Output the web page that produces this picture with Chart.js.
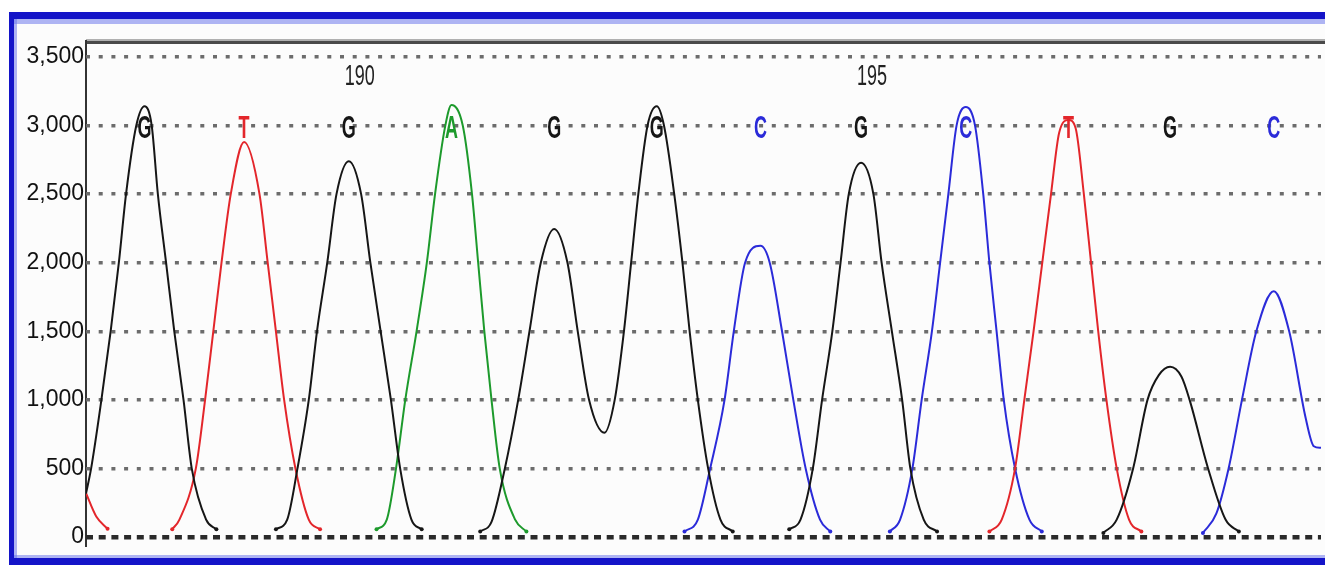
<!DOCTYPE html>
<html>
<head>
<meta charset="utf-8">
<title>Sequence trace 188-199</title>
<script src="https://cdn.jsdelivr.net/npm/chart.js@4.4.1/dist/chart.umd.min.js"></script>
<style>
  html, body { margin: 0; padding: 0; background: #fff; }
  #wrap { width: 1325px; height: 565px; }
</style>
</head>
<body>
<div id="wrap"><canvas id="traceChart" width="1325" height="565"></canvas></div>
<script>
// ---- data ----
// base calls: position of each peak and its letter
const basePositions = [188.00, 188.97, 189.99, 190.99, 191.99, 192.99, 194.00, 194.98, 196.00, 197.00, 197.99, 199.00];
const baseLetters = ['G', 'T', 'G', 'A', 'G', 'G', 'C', 'G', 'C', 'T', 'G', 'C'];
const positionMarks = [190, 195];
const yTicks = [0, 500, 1000, 1500, 2000, 2500, 3000, 3500];
const xRange = [187.43, 199.46];

// signal per channel, as separate peaks: [position, signal]
const traceG = [
    [[187.43, 317], [187.48, 500], [187.58, 1000], [187.67, 1500], [187.75, 2000], [187.82, 2500], [187.92, 3000], [188.00, 3140],
     [188.07, 3000], [188.13, 2500], [188.21, 2000], [188.29, 1500], [188.38, 1000], [188.46, 500], [188.60, 127], [188.70, 56]],
    [[189.28, 56], [189.39, 127], [189.49, 500], [189.60, 1000], [189.68, 1500], [189.78, 2000], [189.87, 2500], [189.99, 2740],
     [190.11, 2500], [190.20, 2000], [190.30, 1500], [190.40, 1000], [190.49, 500], [190.60, 127], [190.70, 56]],
    [[191.27, 40], [191.38, 110], [191.51, 500], [191.64, 1000], [191.75, 1500], [191.86, 2000], [191.99, 2246],
     [192.12, 2000], [192.22, 1500], [192.33, 1000], [192.48, 760], [192.58, 1000], [192.67, 1500], [192.74, 2000],
     [192.81, 2500], [192.90, 3000], [192.99, 3140], [193.06, 3000], [193.16, 2500], [193.24, 2000], [193.31, 1500],
     [193.39, 1000], [193.49, 500], [193.61, 127], [193.73, 40]],
    [[194.28, 56], [194.39, 127], [194.51, 500], [194.60, 1000], [194.70, 1500], [194.78, 2000], [194.86, 2500], [194.98, 2728],
     [195.10, 2500], [195.18, 2000], [195.28, 1500], [195.38, 1000], [195.46, 500], [195.59, 127], [195.72, 40]],
    [[197.34, 30], [197.47, 127], [197.63, 500], [197.77, 1000], [197.88, 1180], [197.99, 1241], [198.10, 1170],
     [198.18, 1000], [198.36, 500], [198.53, 127], [198.66, 40]]
];
const traceT = [
    [[187.43, 320], [187.53, 150], [187.64, 60]],
    [[188.27, 56], [188.34, 127], [188.50, 500], [188.59, 1000], [188.67, 1500], [188.75, 2000], [188.84, 2500], [188.97, 2880],
     [189.12, 2500], [189.20, 2000], [189.28, 1500], [189.36, 1000], [189.47, 500], [189.60, 127], [189.71, 56]],
    [[196.23, 40], [196.35, 127], [196.48, 500], [196.57, 1000], [196.66, 1500], [196.745, 2000], [196.83, 2500], [196.91, 2950],
     [197.00, 3040], [197.07, 2980], [197.15, 2500], [197.22, 2000], [197.29, 1500], [197.37, 1000], [197.47, 500],
     [197.59, 127], [197.71, 40]]
];
const traceA = [
    [[190.26, 56], [190.36, 127], [190.45, 500], [190.54, 1000], [190.65, 1500], [190.75, 2000], [190.83, 2500], [190.93, 3000],
     [190.99, 3150], [191.10, 3000], [191.19, 2500], [191.25, 2000], [191.31, 1500], [191.38, 1000], [191.46, 500],
     [191.61, 127], [191.72, 40]]
];
const traceC = [
    [[193.26, 40], [193.39, 127], [193.51, 500], [193.65, 1000], [193.74, 1500], [193.85, 2000], [194.00, 2123],
     [194.09, 2000], [194.21, 1500], [194.32, 1000], [194.44, 500], [194.58, 127], [194.68, 40]],
    [[195.26, 40], [195.36, 127], [195.48, 500], [195.57, 1000], [195.67, 1500], [195.75, 2000], [195.83, 2500], [195.91, 3000],
     [196.00, 3135], [196.09, 3000], [196.17, 2500], [196.23, 2000], [196.30, 1500], [196.37, 1000], [196.48, 500],
     [196.62, 127], [196.74, 40]],
    [[198.31, 30], [198.44, 170], [198.56, 500], [198.69, 1000], [198.83, 1500], [199.00, 1792], [199.15, 1500],
     [199.31, 870], [199.39, 662], [199.46, 650]]
];

const baseColors = { G: '#161616', T: '#e3262b', A: '#1d9a2c', C: '#2b2bd9' };

// turn peak lists into one dataset per channel, with gaps between peaks
function buildChannel(segments, color) {
    const data = [];
    const radius = [];
    segments.forEach((seg, i) => {
        if (i > 0) {
            const prev = segments[i - 1];
            data.push({ x: (prev[prev.length - 1][0] + seg[0][0]) / 2, y: null });
            radius.push(0);
        }
        seg.forEach((p, j) => {
            data.push({ x: p[0], y: p[1] });
            const isEnd = (j === 0 || j === seg.length - 1);
            const atEdge = p[0] <= xRange[0] || p[0] >= xRange[1];
            radius.push(isEnd && !atEdge ? 2 : 0);
        });
    });
    return {
        data: data,
        borderColor: color,
        backgroundColor: color,
        borderWidth: 2,
        cubicInterpolationMode: 'monotone',
        pointRadius: radius,
        pointBorderWidth: 0,
        pointBackgroundColor: color,
        fill: false,
        spanGaps: false
    };
}

function drawStretched(ctx, text, x, y, font, color, align, sy) {
    ctx.save();
    ctx.translate(x, y);
    ctx.scale(1, sy);
    ctx.font = font;
    ctx.fillStyle = color;
    ctx.textAlign = align;
    ctx.textBaseline = 'middle';
    ctx.fillText(text, 0, 0);
    ctx.restore();
}

// window frame, top rule, left axis line and the base calls
const framePlugin = {
    id: 'frame',
    beforeDraw(chart) {
        const ctx = chart.ctx;
        const a = chart.chartArea;
        ctx.save();
        ctx.fillStyle = '#ffffff';
        ctx.fillRect(0, 0, chart.width, chart.height);
        ctx.fillStyle = '#fcfcfc';
        ctx.fillRect(14, 18, chart.width - 14, chart.height - 25);
        // blue window border
        ctx.fillStyle = '#1414c8';
        ctx.fillRect(9, 12, chart.width - 9, 7);
        ctx.fillRect(9, 12, 5, chart.height - 12);
        ctx.fillRect(9, chart.height - 7, chart.width - 9, 7);
        ctx.fillStyle = 'rgba(110, 120, 235, 0.55)';
        ctx.fillRect(14, 19, chart.width - 14, 5);
        ctx.fillRect(14, 19, 3, chart.height - 26);
        ctx.fillRect(14, chart.height - 10, chart.width - 14, 3);
        // top rule
        ctx.fillStyle = '#b0b0b0';
        ctx.fillRect(a.left, a.top - 18, chart.width - a.left, 2);
        ctx.fillStyle = '#4a4a4a';
        ctx.fillRect(a.left, a.top - 16, chart.width - a.left, 3);
        // left axis
        ctx.fillStyle = '#333333';
        ctx.fillRect(a.left - 1, a.top - 17, 2, a.bottom - a.top + 27);
        ctx.restore();
    },
    afterDatasetsDraw(chart) {
        const ctx = chart.ctx;
        const xs = chart.scales.x;
        const ys = chart.scales.y;
        const letterY = ys.getPixelForValue(3000) + 4;
        const markY = ys.getPixelForValue(3500) + 20;
        ctx.save();
        ctx.beginPath();
        ctx.rect(chart.chartArea.left, 0, chart.width, chart.height);
        ctx.clip();
        basePositions.forEach((pos, i) => {
            const letter = baseLetters[i];
            drawStretched(ctx, letter, xs.getPixelForValue(pos), letterY,
                "bold 18px 'Liberation Sans', sans-serif", baseColors[letter], 'center', 1.7);
        });
        positionMarks.forEach(num => {
            const i = basePositions.findIndex(p => Math.round(p) === num);
            drawStretched(ctx, String(num), xs.getPixelForValue(basePositions[i]) + 11, markY,
                "18px 'Liberation Sans', sans-serif", '#222222', 'center', 1.6);
        });
        ctx.restore();
    }
};

new Chart(document.getElementById('traceChart'), {
    type: 'line',
    data: {
        datasets: [
            buildChannel(traceG, baseColors.G),
            buildChannel(traceT, baseColors.T),
            buildChannel(traceA, baseColors.A),
            buildChannel(traceC, baseColors.C)
        ]
    },
    options: {
        responsive: false,
        animation: false,
        events: [],
        layout: { padding: { top: 57, bottom: 28, left: 0, right: 0 } },
        scales: {
            x: {
                type: 'linear',
                min: xRange[0],
                max: xRange[1],
                display: false
            },
            y: {
                min: 0,
                max: 3500,
                afterBuildTicks: scale => { scale.ticks = yTicks.map(v => ({ value: v })); },
                afterFit: scale => { scale.width = 86; },
                ticks: {
                    color: '#111111',
                    padding: 2,
                    font: { family: "'Liberation Sans', sans-serif", size: 23 },
                    callback: value => value.toLocaleString('en-US')
                },
                grid: {
                    drawTicks: false,
                    color: c => c.tick && c.tick.value === 0 ? '#2a2a2a' : '#6c6c6c',
                    lineWidth: c => c.tick && c.tick.value === 0 ? 4.5 : 3.5
                },
                border: {
                    display: false,
                    dash: c => c.tick && c.tick.value === 0 ? [7, 5.7] : [4, 8.7]
                }
            }
        },
        plugins: {
            legend: { display: false },
            tooltip: { enabled: false }
        }
    },
    plugins: [framePlugin]
});
</script>
</body>
</html>
